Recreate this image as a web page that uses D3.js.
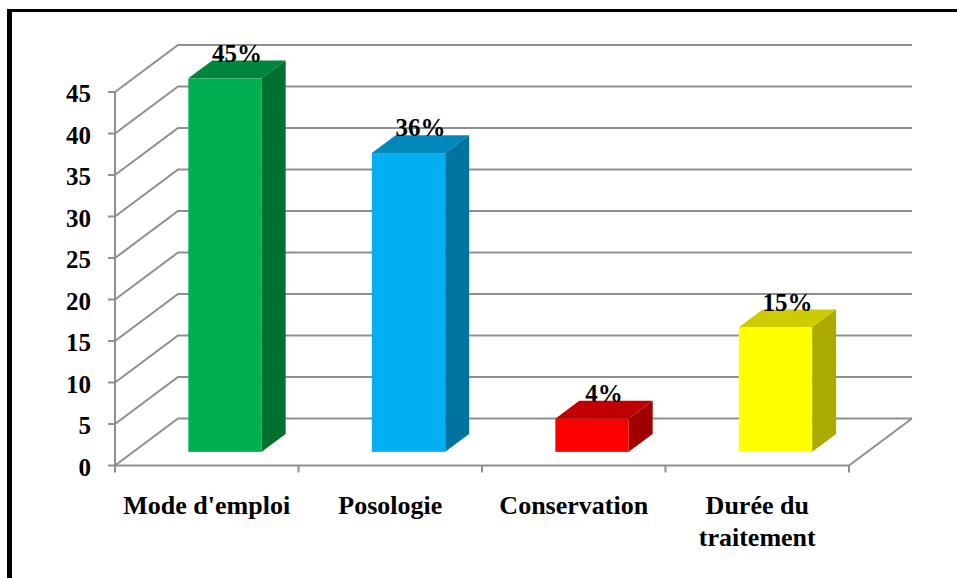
<!DOCTYPE html>
<html>
<head>
<meta charset="utf-8">
<script src="https://cdnjs.cloudflare.com/ajax/libs/d3/7.8.5/d3.min.js"></script>
<style>
  body { margin: 0; background: #fff; }
  svg { display: block; }
  text { font-family: "Liberation Serif", "Times New Roman", serif; font-weight: bold; fill: #000; }
</style>
</head>
<body>
<div id="chart"></div>
<script>
// data
var categories = ["Mode d'emploi", "Posologie", "Conservation", "Durée du traitement"],
    values = [45, 36, 4, 15],
    valueLabels = ["45%", "36%", "4%", "15%"],
    yTicks = [0, 5, 10, 15, 20, 25, 30, 35, 40, 45];

var fronts = ["#00b050", "#00b0f0", "#ff0000", "#ffff00"],
    tops = ["#00853c", "#0088bb", "#c00000", "#cccc00"],
    sides = ["#00702f", "#0074a0", "#a00000", "#aaaa00"];

// layout
var width = 957,
    height = 578,
    x0 = 115, x1 = 849,   // front floor edge
    yBase = 465.5, yTop = 92,
    depthX = 63, depthY = -47,   // wall depth offset
    barFront = 0.29, barDepth = 0.38;   // fraction of depth

var x = d3.scaleBand()
    .domain(categories)
    .range([x0, x1])
    .paddingInner(0.6)
    .paddingOuter(0.3);

var xStep = d3.scaleBand().domain(categories).range([x0, x1]);

var y = d3.scaleLinear().domain([0, 45]).range([yBase, yTop]);

var svg = d3.select("#chart").append("svg")
    .attr("width", width)
    .attr("height", height);

// frame
svg.append("rect").attr("x", 7).attr("y", 9).attr("width", 5).attr("height", height - 9).attr("fill", "#000");
svg.append("rect").attr("x", 7).attr("y", 9).attr("width", width - 7).attr("height", 3).attr("fill", "#000");

var grid = svg.append("g")
    .attr("fill", "none")
    .attr("stroke", "#8f8f8f")
    .attr("stroke-width", 2);

// side wall diagonals + back wall lines
yTicks.forEach(function (t) {
    var yy = y(t);
    grid.append("path")
        .attr("d", "M" + x0 + "," + yy + "L" + (x0 + depthX) + "," + (yy + depthY) +
            "L" + (x1 + depthX) + "," + (yy + depthY));
});

// floor
grid.append("path")
    .attr("d", "M" + (x1 + depthX) + "," + (yBase + depthY) + "L" + x1 + "," + yBase + "L" + x0 + "," + yBase);

// front vertical axis
grid.append("path").attr("d", "M" + x0 + "," + yTop + "L" + x0 + "," + yBase);
yTicks.forEach(function (t) {
    grid.append("path").attr("d", "M" + (x0 - 7) + "," + y(t) + "L" + x0 + "," + y(t));
});

// category ticks
var bounds = categories.map(function (c) { return xStep(c); }).concat([x1]);
bounds.forEach(function (b) {
    grid.append("path").attr("d", "M" + b + "," + yBase + "L" + b + "," + (yBase + 7));
});

// y tick labels
svg.append("g").selectAll("text")
    .data(yTicks)
    .enter().append("text")
    .attr("x", 91)
    .attr("y", function (d) { return y(d) + 10; })
    .attr("text-anchor", "end")
    .style("font-size", "25px")
    .text(function (d) { return d; });

// bars
var fx = barFront * depthX, fy = barFront * depthY,
    dx = barDepth * depthX, dy = barDepth * depthY;

var bars = svg.append("g").selectAll("g")
    .data(values)
    .enter().append("g");

bars.each(function (v, i) {
    var g = d3.select(this),
        left = x(categories[i]) + fx,
        right = left + x.bandwidth(),
        bottom = y(0) + fy,
        top = y(v) + fy;

    g.append("rect")
        .attr("x", left)
        .attr("y", top)
        .attr("width", right - left)
        .attr("height", bottom - top)
        .attr("fill", fronts[i]);

    g.append("path")
        .attr("d", "M" + left + "," + top + "L" + (left + dx) + "," + (top + dy) +
            "L" + (right + dx) + "," + (top + dy) + "L" + right + "," + top + "Z")
        .attr("fill", tops[i]);

    g.append("path")
        .attr("d", "M" + right + "," + top + "L" + (right + dx) + "," + (top + dy) +
            "L" + (right + dx) + "," + (bottom + dy) + "L" + right + "," + bottom + "Z")
        .attr("fill", sides[i]);

    g.append("text")
        .attr("x", (left + right) / 2 + dx / 2)
        .attr("y", top + dy + 1)
        .attr("text-anchor", "middle")
        .style("font-size", "25px")
        .text(valueLabels[i]);
});

// category labels
var catLabels = svg.append("g").selectAll("text")
    .data(categories)
    .enter().append("text")
    .attr("x", function (d) { return xStep(d) + xStep.bandwidth() / 2; })
    .attr("y", 514)
    .attr("text-anchor", "middle")
    .style("font-size", "26px");

catLabels.each(function (d) {
    var t = d3.select(this);
    var lines = d === "Durée du traitement" ? ["Durée du", "traitement"] : [d];
    lines.forEach(function (l, k) {
        t.append("tspan")
            .attr("x", t.attr("x"))
            .attr("dy", k === 0 ? 0 : 32)
            .text(l);
    });
});
</script>
</body>
</html>
